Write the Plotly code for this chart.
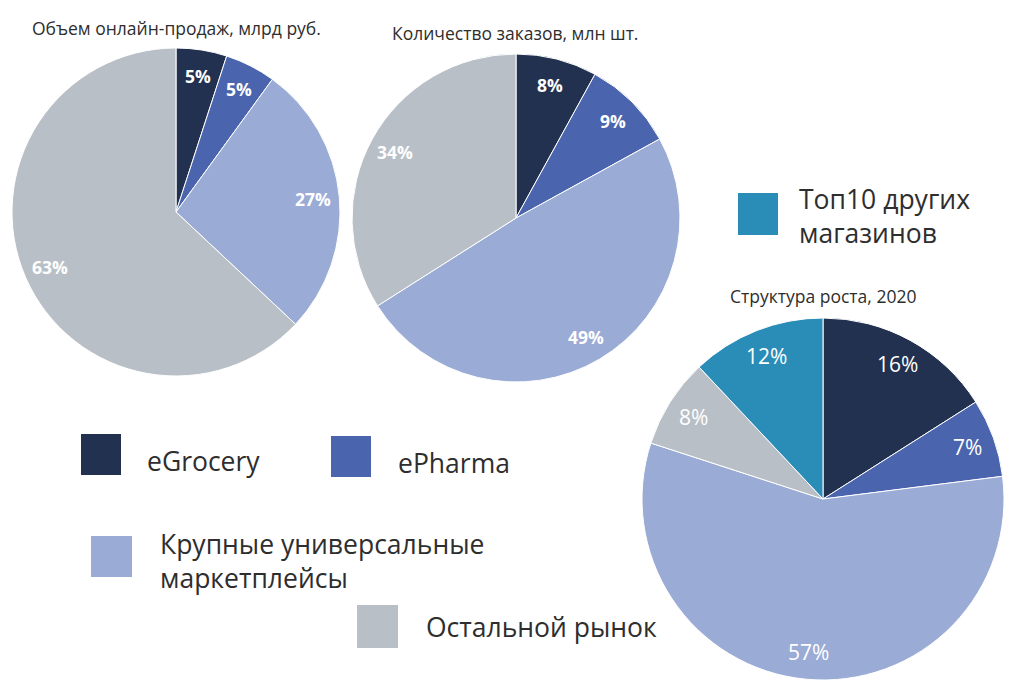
import math
import plotly.graph_objects as go

W, H = 1024, 685
OFF = 8  # page body margin of the exported html

categories = ["eGrocery", "ePharma", "Крупные универсальные маркетплейсы", "Остальной рынок"]
categories3 = ["eGrocery", "ePharma", "Крупные универсальные маркетплейсы", "Остальной рынок", "Топ10 других магазинов"]
sales_share = [5, 5, 27, 63]
orders_share = [8, 9, 49, 34]
growth_share = [16, 7, 57, 8, 12]

titles = ["Объем онлайн-продаж, млрд руб.", "Количество заказов, млн шт.", "Структура роста, 2020"]

colors = {
    "eGrocery": "#22314F",
    "ePharma": "#4A64AD",
    "Крупные универсальные маркетплейсы": "#9AABD6",
    "Остальной рынок": "#B8BFC6",
    "Топ10 других магазинов": "#2A8DB8",
}

FONT = "Open Sans"
TXT = "#2E2E2E"


def X(px):
    return (px - OFF) / W


def Y(py):
    return 1 - (py - OFF) / H


fig = go.Figure()

pies = [
    (categories, sales_share, (12, 340, 48, 376), dict(size=17.5, weight="bold"), 0.84),
    (categories, orders_share, (352, 680, 54, 382), dict(size=17.5, weight="bold"), 0.84),
    (categories3, growth_share, (642, 1004, 318, 680), dict(size=21, weight="normal"), 0.85),
]

for labels, vals, (x0, x1, y0, y1), tf, rfrac in pies:
    fig.add_trace(go.Pie(
        labels=labels, values=vals, sort=False, direction="clockwise", rotation=0,
        marker=dict(colors=[colors[c] for c in labels], line=dict(color="white", width=1)),
        textinfo="none", domain=dict(x=[X(x0), X(x1)], y=[Y(y1), Y(y0)]),
        showlegend=False, hoverinfo="label+value",
    ))
    # percentage labels placed along each slice's mid-angle, toward the rim
    cx, cy = (x0 + x1) / 2, (y0 + y1) / 2
    r = min(x1 - x0, y1 - y0) / 2 * rfrac
    total = sum(vals)
    cum = 0
    for v in vals:
        ang = 2 * math.pi * (cum + v / 2) / total
        cum += v
        lx = cx + r * math.sin(ang)
        ly = cy - r * math.cos(ang)
        fig.add_annotation(x=X(lx), y=Y(ly), xref="paper", yref="paper", text=f"{v}%",
                           showarrow=False, xanchor="center", yanchor="middle",
                           font=dict(family=FONT, color="white", **tf))

# titles
title_pos = [(176, 28), (515, 33), (823, 296)]
for t, (x, y) in zip(titles, title_pos):
    fig.add_annotation(x=X(x), y=Y(y), xref="paper", yref="paper", text=t, showarrow=False,
                       font=dict(family=FONT, size=17.5, color=TXT), xanchor="center", yanchor="middle")

# custom legend
legend_items = [
    ("eGrocery", "eGrocery", (81, 434, 121, 475), (145, 461)),
    ("ePharma", "ePharma", (331, 436, 371, 477), (396, 463)),
    ("Крупные универсальные маркетплейсы", "Крупные универсальные<br>маркетплейсы", (91, 536, 132, 577), (158, 561)),
    ("Остальной рынок", "Остальной рынок", (357, 605, 398, 648), (424, 627)),
    ("Топ10 других магазинов", "Топ10 других<br>магазинов", (738, 193, 778, 235), (797, 216)),
]
for key, txt, (x0, y0, x1, y1), (tx, ty) in legend_items:
    fig.add_shape(type="rect", xref="paper", yref="paper",
                  x0=X(x0), x1=X(x1), y0=Y(y1), y1=Y(y0),
                  fillcolor=colors[key], line=dict(width=0))
    fig.add_annotation(x=X(tx), y=Y(ty), xref="paper", yref="paper", text=txt, showarrow=False,
                       font=dict(family=FONT, size=26.5, color=TXT), xanchor="left", yanchor="middle",
                       align="left")

fig.update_layout(width=W, height=H, margin=dict(l=0, r=0, t=0, b=0),
                  paper_bgcolor="white", plot_bgcolor="white")

fig.write_html("out.html")
